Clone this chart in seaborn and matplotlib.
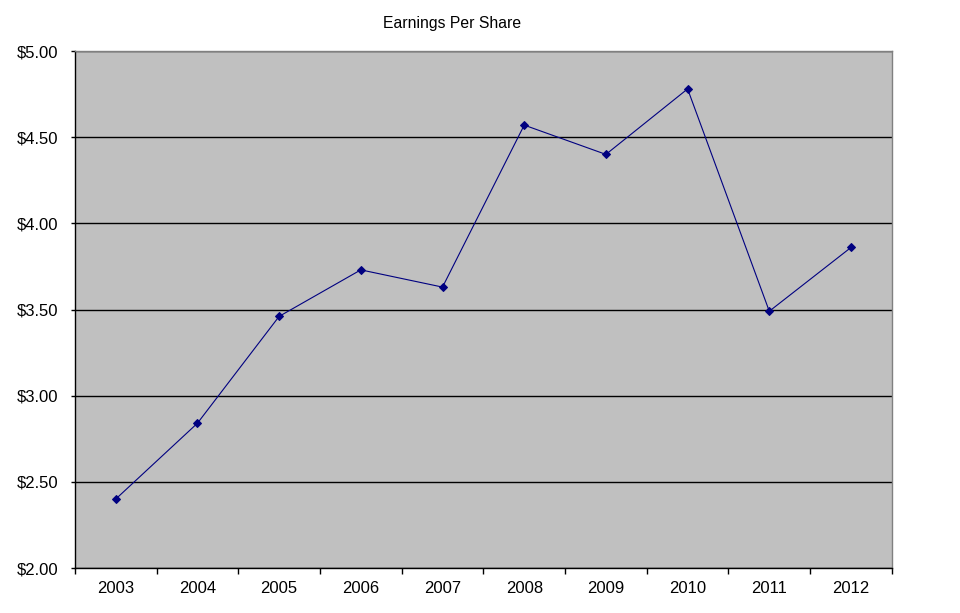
import numpy as np
import pandas as pd
import matplotlib.pyplot as plt
import seaborn as sns
from matplotlib.ticker import FixedLocator, NullFormatter

# data
years = ['2003', '2004', '2005', '2006', '2007', '2008', '2009', '2010', '2011', '2012']
eps = [2.40, 2.84, 3.46, 3.73, 3.63, 4.57, 4.40, 4.78, 3.49, 3.86]

df = pd.DataFrame({'pos': np.arange(len(years)), 'eps': eps})

sns.set_style('white')
plt.rcParams['font.family'] = ['Liberation Sans', 'DejaVu Sans']
plt.rcParams['text.color'] = 'black'
plt.rcParams['xtick.color'] = 'black'
plt.rcParams['ytick.color'] = 'black'

fig = plt.figure(figsize=(9.6, 6.13), dpi=100)
ax = fig.add_axes([0.078, 0.0734, 0.851, 0.8434])
ax.set_facecolor('#c0c0c0')

sns.lineplot(data=df, x='pos', y='eps', ax=ax, color='#000080', linewidth=0.8,
             marker='D', markersize=4.5, markeredgecolor='#000080')

ax.set_ylim(2.0, 5.0)
ax.set_yticks(np.arange(2.0, 5.01, 0.5))
ax.set_yticklabels(['$%.2f' % v for v in np.arange(2.0, 5.01, 0.5)])
ax.yaxis.grid(True, color='black', linewidth=1)
ax.set_axisbelow(True)

ax.set_xlim(-0.5, len(years) - 0.5)
ax.set_xticks(np.arange(len(years)))
ax.set_xticklabels(years)
ax.xaxis.set_minor_locator(FixedLocator(np.arange(-0.5, len(years), 1.0)))
ax.xaxis.set_minor_formatter(NullFormatter())
ax.tick_params(axis='x', which='major', length=0, pad=9, labelsize=12)
ax.tick_params(axis='x', which='minor', length=4, width=1, color='black', direction='out')
ax.tick_params(axis='y', length=3, width=1, color='black', direction='out', labelsize=12, pad=9)
ax.tick_params(bottom=True, left=True, which='both')

ax.set_xlabel('')
ax.set_ylabel('')
for s in ['left', 'bottom']:
    ax.spines[s].set_color('black')
    ax.spines[s].set_linewidth(1)
for s in ['top', 'right']:
    ax.spines[s].set_color('#808080')
    ax.spines[s].set_linewidth(1)

fig.text(0.471, 0.962, 'Earnings Per Share', ha='center', va='center', fontsize=11.3)

fig.savefig('out.png', dpi=100)
